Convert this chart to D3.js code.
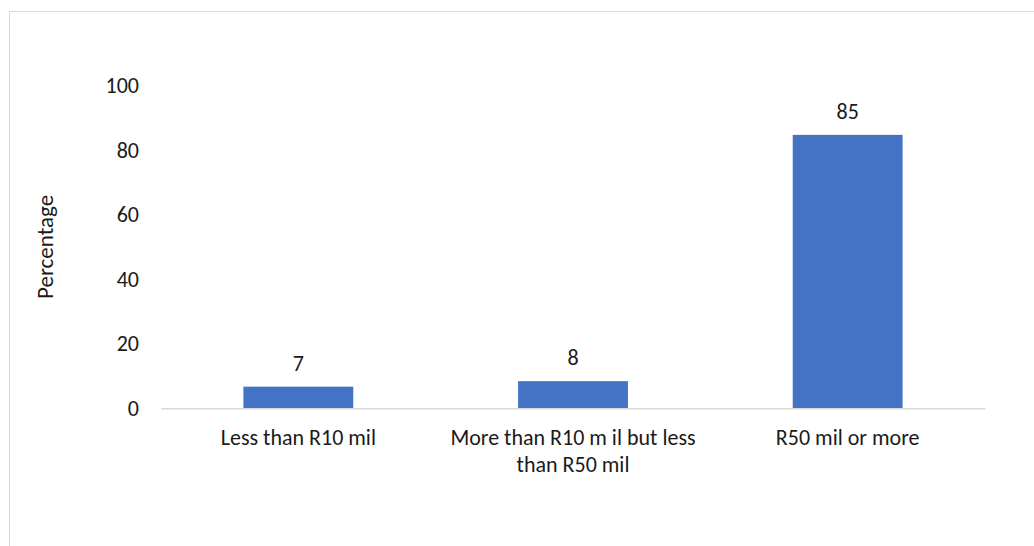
<!DOCTYPE html>
<html>
<head>
<meta charset="utf-8">
<script src="https://cdn.jsdelivr.net/npm/d3@7"></script>
<style>
  html, body { margin: 0; padding: 0; background: #fff; }
  svg { display: block; font-family: Calibri, Carlito, Lato, "Open Sans", sans-serif; }
</style>
</head>
<body>
<svg id="chart" width="1034" height="546"></svg>
<script>
const categories = ["Less than R10 mil", "More than R10 m il but less than R50 mil", "R50 mil or more"];
const categoryLines = [["Less than R10 mil"], ["More than R10 m il but less", "than R50 mil"], ["R50 mil or more"]];
const values = [6.7, 8.4, 84.7];
const valueLabels = ["7", "8", "85"];
const yTicks = [0, 20, 40, 60, 80, 100];
const yTitle = "Percentage";

const svg = d3.select("#chart");
const W = 1034, H = 546;
const plot = { left: 161, right: 985, top: 85.5, bottom: 408.3 };
const FS = 22;
const TXT = "#1a1a1a";

// chart frame
svg.append("path")
  .attr("d", `M9.5,${H + 5} V11.5 H${W + 5}`)
  .attr("fill", "none").attr("stroke", "#d9d9d9").attr("stroke-width", 1);

const x = d3.scaleBand().domain(categories).range([plot.left, plot.right])
  .paddingInner(0.6).paddingOuter(0.3);
const y = d3.scaleLinear().domain([0, 100]).range([plot.bottom, plot.top]);

// y axis labels
const yAxis = d3.axisLeft(y).tickValues(yTicks).tickSize(0).tickPadding(0).tickFormat(d3.format("d"));
const yg = svg.append("g").attr("transform", "translate(139,0)").call(yAxis);
yg.attr("font-size", FS).attr("font-family", null);
yg.select(".domain").remove();
yg.selectAll("text").attr("fill", TXT);

// bars
svg.append("g").selectAll("rect").data(values).join("rect")
  .attr("x", (d, i) => x(categories[i]))
  .attr("width", x.bandwidth())
  .attr("y", d => y(d))
  .attr("height", d => y(0) - y(d))
  .attr("fill", "#4472c4");

// x axis line
const xAxis = d3.axisBottom(x).tickSize(0).tickFormat("");
const xg = svg.append("g").attr("transform", `translate(0,${plot.bottom})`).call(xAxis);
xg.select(".domain").attr("stroke", "#d9d9d9").attr("stroke-width", 1.5);

// category labels
const lbl = svg.append("g").selectAll("text").data(categories).join("text")
  .attr("x", d => x(d) + x.bandwidth() / 2)
  .attr("y", 445)
  .attr("text-anchor", "middle")
  .attr("font-size", FS)
  .attr("fill", TXT);
lbl.each(function (d, i) {
  d3.select(this).selectAll("tspan").data(categoryLines[i]).join("tspan")
    .attr("x", x(d) + x.bandwidth() / 2)
    .attr("dy", (t, j) => j === 0 ? 0 : 27)
    .text(t => t);
});

// value labels
svg.append("g").selectAll("text").data(values).join("text")
  .attr("x", (d, i) => x(categories[i]) + x.bandwidth() / 2)
  .attr("y", d => y(d) - 16)
  .attr("text-anchor", "middle")
  .attr("font-size", FS)
  .attr("fill", TXT)
  .text((d, i) => valueLabels[i]);

// y title
svg.append("text")
  .attr("transform", `translate(53,${(plot.top + plot.bottom) / 2}) rotate(-90)`)
  .attr("text-anchor", "middle")
  .attr("font-size", 23)
  .attr("fill", TXT)
  .text(yTitle);
</script>
</body>
</html>
